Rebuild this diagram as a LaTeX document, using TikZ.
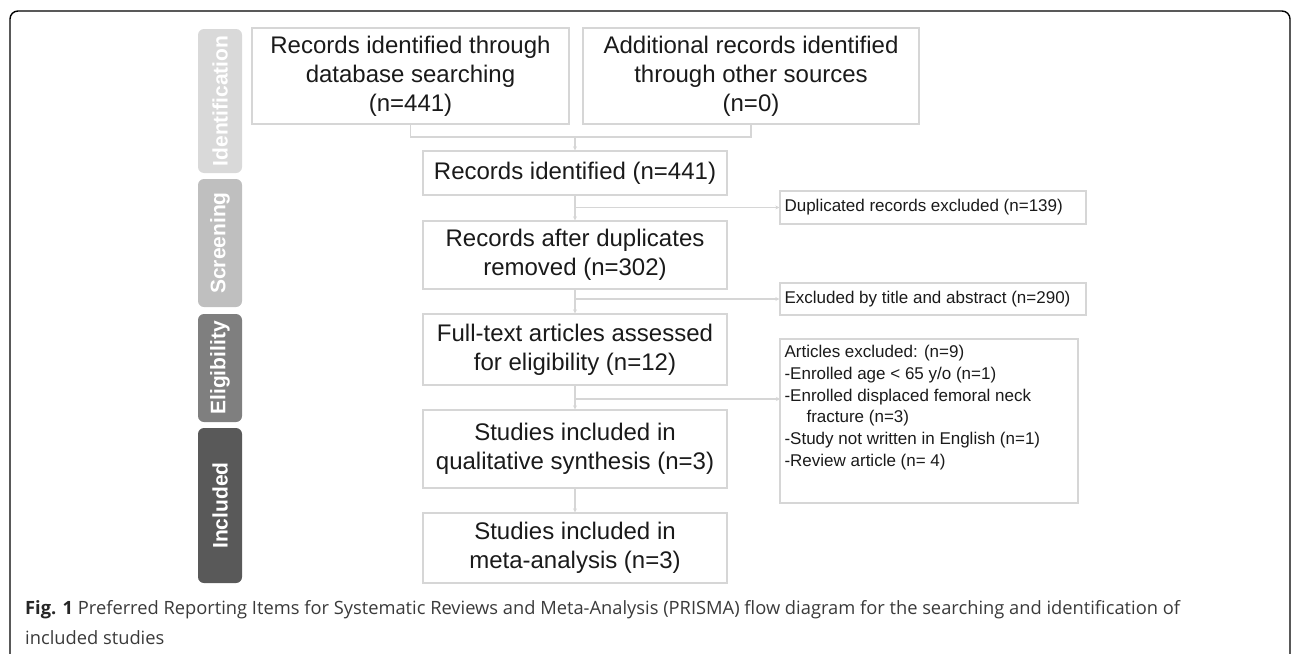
\documentclass[tikz,border=0pt]{standalone}
\usepackage{fontspec}
\setmainfont{Liberation Sans}
\newfontfamily\capfont{Open Sans}
\usetikzlibrary{arrows.meta}
\definecolor{boxline}{HTML}{D6D6D6}
\definecolor{bandA}{HTML}{D9D9D9}
\definecolor{bandB}{HTML}{BFBFBF}
\definecolor{bandC}{HTML}{7F7F7F}
\definecolor{bandD}{HTML}{595959}
\definecolor{txt}{HTML}{1A1A1A}
\definecolor{captxt}{HTML}{3A3A3A}
\tikzset{
  mainbox/.style={draw=boxline, line width=1.3pt, text=txt, align=center, inner sep=0pt,
    font=\fontsize{24}{29}\selectfont},
  sidebox/.style={draw=boxline, line width=1.3pt, text=txt, inner sep=0pt},
  band/.style={rounded corners=6pt, draw=none, minimum height=44pt, inner sep=0pt,
    text=white, font=\bfseries\fontsize{21}{24}\selectfont},
  conn/.style={draw=boxline, line width=1.3pt},
  arr/.style={conn, -{Stealth[length=4pt,width=4pt]}},
  smalltxt/.style={text=txt, font=\fontsize{17}{21.7}\selectfont, inner sep=0pt, align=left}
}
\begin{document}
\begin{tikzpicture}[x=1pt,y=-1pt]
\useasboundingbox (0,0) rectangle (1292,653);
% frame
\begin{scope}
\clip (0,0) rectangle (1292,653);
\draw[line width=1.4pt, rounded corners=8pt] (10,670) -- (10,11) -- (1290,11) -- (1290,670);
\end{scope}
% bands
\node[band, fill=bandA, minimum width=144pt, rotate=90] (bid) at (220,101) {Identification};
\node[band, fill=bandB, minimum width=128pt, rotate=90] (bsc) at (220,243) {Screening};
\node[band, fill=bandC, minimum width=108pt, rotate=90] (bel) at (220,368) {Eligibility};
\node[band, fill=bandD, minimum width=155pt, rotate=90] (bin) at (220,505.5) {Included};
% main boxes
\node[mainbox, minimum width=317pt, minimum height=96pt] (A) at (410.5,76) {Records identified through\\database searching\\(n=441)};
\node[mainbox, minimum width=336pt, minimum height=96pt] (B) at (751,76) {Additional records identified\\through other sources\\(n=0)};
\node[mainbox, minimum width=304pt, minimum height=44pt] (C) at (575,173) {Records identified (n=441)};
\node[mainbox, minimum width=304pt, minimum height=68pt] (D) at (575,255) {Records after duplicates\\removed (n=302)};
\node[mainbox, minimum width=304pt, minimum height=71pt] (E) at (575,349.5) {Full-text articles assessed\\for eligibility (n=12)};
\node[mainbox, minimum width=304pt, minimum height=78pt] (F) at (575,449) {Studies included in\\qualitative synthesis (n=3)};
\node[mainbox, minimum width=304pt, minimum height=70pt] (G) at (575,548) {Studies included in\\meta-analysis (n=3)};
% side boxes
\node[sidebox, minimum width=306pt, minimum height=33pt] (Dup) at (933,207.5) {};
\node[smalltxt, anchor=west] (duptxt) at ([xshift=5pt]Dup.west) {Duplicated records excluded (n=139)};
\node[sidebox, minimum width=306pt, minimum height=32pt] (Exc) at (933,299) {};
\node[smalltxt, anchor=west] (exctxt) at ([xshift=5pt]Exc.west) {Excluded by title and abstract (n=290)};
\node[sidebox, minimum width=298pt, minimum height=164pt] (Art) at (929,421) {};
\node[smalltxt, anchor=north west] (arttxt) at ([xshift=5pt,yshift=-7pt]Art.north west) {Articles excluded: (n=9)\\-Enrolled age < 65 y/o (n=1)\\-Enrolled displaced femoral neck\\\hspace*{22pt}fracture (n=3)\\-Study not written in English (n=1)\\-Review article (n= 4)};
% connectors
\coordinate (merge) at (575,137);
\draw[conn] (A.south) |- (merge) -| (B.south);
\draw[arr] (merge) -- (C.north);
\draw[arr] (C.south) -- (D.north);
\draw[arr] (C.south |- Dup.west) -- (Dup.west);
\draw[arr] (D.south) -- (E.north);
\draw[arr] (D.south |- Exc.west) -- (Exc.west);
\draw[arr] (E.south) -- (F.north);
\coordinate (artsrc) at (575,399);
\coordinate (artin) at (780,399);
\draw[arr] (artsrc) -- (artin);
\draw[arr] (F.south) -- (G.north);
% caption
\node[anchor=west, inner sep=0pt, text=captxt, font=\capfont\fontsize{18.3}{28}\selectfont] (cap1) at (25,610) {\textbf{\color{black!85}Fig. 1} Preferred Reporting Items for Systematic Reviews and Meta-Analysis (PRISMA) flow diagram for the searching and identification of};
\node[anchor=west, inner sep=0pt, text=captxt, font=\capfont\fontsize{18.3}{28}\selectfont] (cap2) at (25,638) {included studies};
\end{tikzpicture}
\end{document}
